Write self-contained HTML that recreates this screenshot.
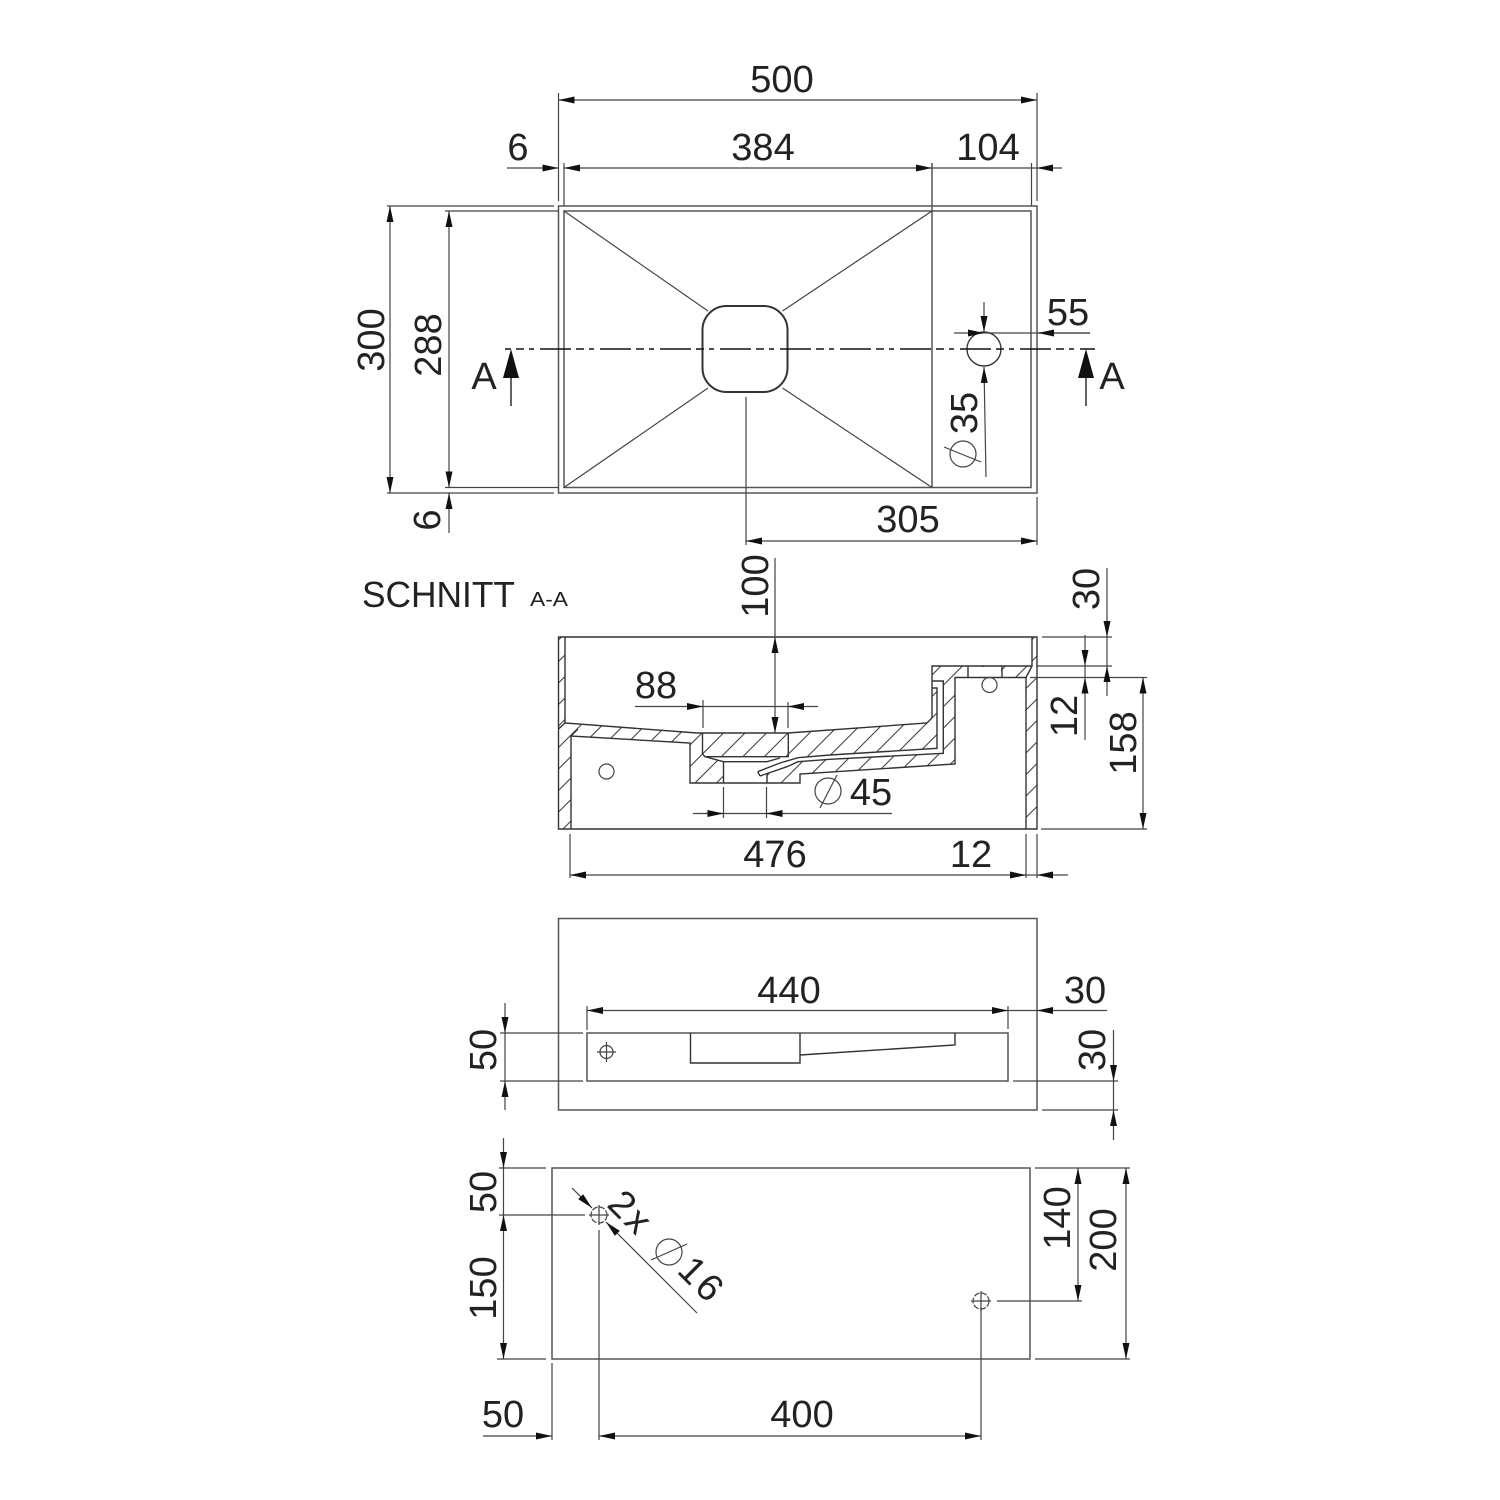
<!DOCTYPE html>
<html>
<head>
<meta charset="utf-8">
<style>
html,body{margin:0;padding:0;background:#fff}
svg{display:block}
text{font-family:"Liberation Sans",sans-serif;font-size:38px;fill:#222;text-anchor:middle}
.o{fill:none;stroke:#333;stroke-width:1.4}
.g{fill:none;stroke:#555;stroke-width:1.5}
.t{fill:none;stroke:#444;stroke-width:1.2}
.d{fill:none;stroke:#444;stroke-width:1.2;marker-start:url(#a);marker-end:url(#a)}
.e{fill:none;stroke:#444;stroke-width:1.2;marker-end:url(#a)}
.h{fill:url(#hatch);stroke:none}
</style>
</head>
<body>
<svg width="1500" height="1500" viewBox="0 0 1500 1500" xmlns="http://www.w3.org/2000/svg">
<defs>
<marker id="a" markerUnits="userSpaceOnUse" markerWidth="18" markerHeight="10" refX="16" refY="3.500" orient="auto-start-reverse" viewBox="0 0 18 10" overflow="visible">
<path d="M0 0L16 3.500L0 7Z" fill="#111"/>
</marker>
<pattern id="hatch" patternUnits="userSpaceOnUse" width="21.5" height="21.5" patternTransform="translate(16,0)">
<path d="M-2 23.500L23.500 -2M-2 2L2 -2M19.500 23.500L23.500 19.500" stroke="#444" stroke-width="1.1" fill="none"/>
</pattern>
</defs>
<rect width="1500" height="1500" fill="#fff"/>

<!-- TOP VIEW -->
<rect class="g" x="558.500" y="206" width="478.500" height="287"/>
<rect class="g" x="564" y="211" width="467" height="276.500"/>
<path class="g" d="M932 163V487.500"/>
<rect x="702.500" y="306" width="85" height="86" rx="24" ry="24" fill="none" stroke="#333" stroke-width="2"/>
<path class="t" d="M564 211L708 311M932 211L782.500 311M564 487.500L708 388M932 487.500L782.500 388"/>
<circle class="o" cx="984" cy="349" r="17"/>
<path d="M505 349H1095" fill="none" stroke="#111" stroke-width="1.5" stroke-dasharray="31 5 8 5 5 6" stroke-dashoffset="25"/>
<path d="M511 406V378" stroke="#222" stroke-width="1.4"/>
<path d="M511 349L503 378H519Z" fill="#111"/>
<path d="M1086 406V378" stroke="#222" stroke-width="1.4"/>
<path d="M1086 349L1078 378H1094Z" fill="#111"/>
<text x="484" y="389">A</text>
<text x="1112" y="389">A</text>

<path class="t" d="M558.500 93V201M1037 93V201M564 163V206M1031.500 163V206M746 397V545M1037 497V545M387 206H554M387 493H554M445 211H558M445 487.500H558"/>
<path class="d" d="M558.500 100H1037"/>
<path class="d" d="M564 168H932"/>
<path class="e" d="M507 168H558.500"/>
<path class="t" d="M932 168H1037"/>
<path class="e" d="M1062 168H1037"/>
<path class="d" d="M390 206V493"/>
<path class="d" d="M449 211V487.500"/>
<path class="e" d="M449 533V493"/>
<path class="d" d="M746 541H1037"/>
<path class="e" d="M954 333H984"/>
<path class="t" d="M984 333H1090"/>
<path class="e" d="M1090 333H1038"/>
<path class="e" d="M984 302V332"/>
<path class="e" d="M986 477L984 367"/>
<circle class="t" cx="963" cy="454" r="13"/>
<path class="t" d="M944 447L981 462"/>

<text x="782" y="92">500</text>
<text x="518" y="160">6</text>
<text x="763" y="160">384</text>
<text x="988" y="160">104</text>
<text x="908" y="532">305</text>
<text x="1068" y="325">55</text>
<text transform="translate(384,340) rotate(-90)">300</text>
<text transform="translate(441,345) rotate(-90)">288</text>
<text transform="translate(440,520) rotate(-90)">6</text>
<text transform="translate(977,413) rotate(-90)">35</text>

<!-- SECTION -->
<text x="362" y="607" style="text-anchor:start;font-size:36px" textLength="153" lengthAdjust="spacingAndGlyphs">SCHNITT</text>
<text x="530" y="606" style="text-anchor:start;font-size:20px" textLength="38" lengthAdjust="spacingAndGlyphs">A-A</text>

<polygon class="h" points="558,637 565,637 565,723 697,733 702,733 702,755 705,757 723.500,762 723.500,783 690,783 690,743 571,736 571,829 558,829"/>
<polygon class="h" points="702,733 788,733 788,757 702,757"/>
<polygon class="h" points="788,733 927,723 932,718 932,688 937,688 937,748 830,755 798,757.500 788,757"/>
<polygon class="h" points="932,666 1032,666 1032,637 1037,637 1037,829 1026,829 1026,677.500 955,677.500 955,764 800,774 800,783 767,783 767,773 787,766.700 798,761.700 830,759.300 943,753.300 943,681 932,681"/>
<rect x="968" y="667" width="33" height="10" fill="#fff"/>

<path class="o" d="M558.500 637H1037V829H558.500ZM565 637V723L697 733H788L927 723L932 718V666H1032V637"/>
<path class="o" d="M1032 666L1026 677.500M565 723L558.500 729"/>
<path class="o" d="M571 829V736L690 743V783H800V774L955 764V677.500H1026V829"/>
<path class="o" d="M571 736L578 729M968 666V677.500M1002 666V677.500"/>
<path class="o" d="M702.500 733V754L705 756.700H788.300V733M705 756.700L723.500 761.700H767L780 758M723.500 761.700V783M767 773V783"/>
<path class="o" d="M757.700 771.700L780 763L798 757.700L830 755L937 748.300V688H932M760 776L787 766.700L798 761.700L830 759.300L943.300 753.300V681H932"/>
<path class="o" d="M757.700 771.700L760 776"/>
<circle class="t" cx="606.500" cy="771.500" r="7.500"/>
<circle class="t" cx="989.500" cy="685" r="7.500"/>

<path class="t" d="M775 558V637M703 700V728M788 702V728M723.500 787V818M766.500 787V818M570 834V878M1026 834V878M1037 834V878"/>
<path class="t" d="M1042 637H1112M1036 666H1112M1030 677.500H1147M1041 829H1147"/>
<path class="d" d="M775 637V733"/>
<path class="t" d="M635 706.500H818"/>
<path class="e" d="M687 706.500H703"/>
<path class="e" d="M804 706.500H788"/>
<path class="t" d="M693 813.500H892"/>
<path class="e" d="M705 813.500H723.500"/>
<path class="e" d="M785 813.500H766.500"/>
<circle class="t" cx="828" cy="791" r="13"/>
<path class="t" d="M820 808L837 775"/>
<path class="d" d="M570 875H1026"/>
<path class="e" d="M1068 875H1037"/>
<path class="t" d="M1026 875H1037"/>
<path class="t" d="M1107 637V666"/>
<path class="e" d="M1107 568V637"/>
<path class="e" d="M1107 696V666"/>
<path class="t" d="M1085 666V677.500"/>
<path class="e" d="M1085 635V666"/>
<path class="e" d="M1085 740V677.500"/>
<path class="d" d="M1143 677.500V829"/>

<text transform="translate(768,586) rotate(-90)">100</text>
<text x="656" y="698">88</text>
<text x="871" y="805">45</text>
<text x="775" y="867">476</text>
<text x="971" y="867">12</text>
<text transform="translate(1099,589) rotate(-90)">30</text>
<text transform="translate(1077,716) rotate(-90)">12</text>
<text transform="translate(1136,743) rotate(-90)">158</text>

<!-- BACK VIEW -->
<rect class="g" x="558.500" y="918.500" width="478.500" height="191.500"/>
<rect class="g" x="587" y="1033" width="421" height="48"/>
<path class="o" d="M690.500 1033V1063H800V1033M800 1055L955 1045V1033"/>
<circle class="t" cx="606.500" cy="1052" r="6.500"/>
<path class="t" d="M597 1052H616M606.500 1042V1062"/>
<path class="t" d="M587 1006V1030M1008 1006V1029M500 1033H583M500 1081H583M1013 1081H1118M1042 1110H1118"/>
<path class="d" d="M587 1010.500H1008"/>
<path class="t" d="M1008 1010.500H1037"/>
<path class="e" d="M1107 1010.500H1037"/>
<path class="e" d="M505 1003V1033"/>
<path class="t" d="M505 1033V1081"/>
<path class="e" d="M505 1110V1081"/>
<path class="e" d="M1113.500 1030V1081"/>
<path class="t" d="M1113.500 1081V1110"/>
<path class="e" d="M1113.500 1140V1110"/>
<text x="789" y="1003">440</text>
<text x="1085" y="1003">30</text>
<text transform="translate(496,1050) rotate(-90)">50</text>
<text transform="translate(1105,1050) rotate(-90)">30</text>

<!-- BOTTOM VIEW -->
<rect class="g" x="552" y="1168" width="478" height="191"/>
<circle class="t" cx="599" cy="1215" r="8" stroke-dasharray="6 1.500"/>
<path class="t" d="M589 1215H609M599 1205V1225"/>
<circle class="t" cx="981" cy="1301" r="8" stroke-dasharray="6 1.500"/>
<path class="t" d="M971 1301H991M981 1291V1311"/>
<path class="t" d="M499 1168H546M499 1215H585M497 1359H546M1035 1168H1130M1035 1359H1130M997 1301H1082M599 1230V1440M981 1310V1440M552 1363V1440"/>
<path class="e" d="M503.500 1138V1168"/>
<path class="t" d="M503.500 1168V1215"/>
<path class="d" d="M503.500 1215V1359"/>
<path class="d" d="M599 1436H981"/>
<path class="e" d="M483 1436H552"/>
<path class="d" d="M1078 1168V1301"/>
<path class="d" d="M1126 1168V1359"/>
<path class="e" d="M572 1188L592 1208"/>
<path class="e" d="M697 1313L606 1222"/>
<circle class="t" cx="669" cy="1252" r="13"/>
<path class="t" d="M651 1260L687 1244"/>
<text transform="translate(622,1222) rotate(45)" style="letter-spacing:3px">2x</text>
<text transform="translate(693,1289) rotate(45)" style="letter-spacing:3px">16</text>
<text transform="translate(496,1192) rotate(-90)">50</text>
<text transform="translate(496,1288) rotate(-90)">150</text>
<text transform="translate(1070,1218) rotate(-90)">140</text>
<text transform="translate(1116,1240) rotate(-90)">200</text>
<text x="503" y="1427">50</text>
<text x="802" y="1427">400</text>
</svg>
</body>
</html>
